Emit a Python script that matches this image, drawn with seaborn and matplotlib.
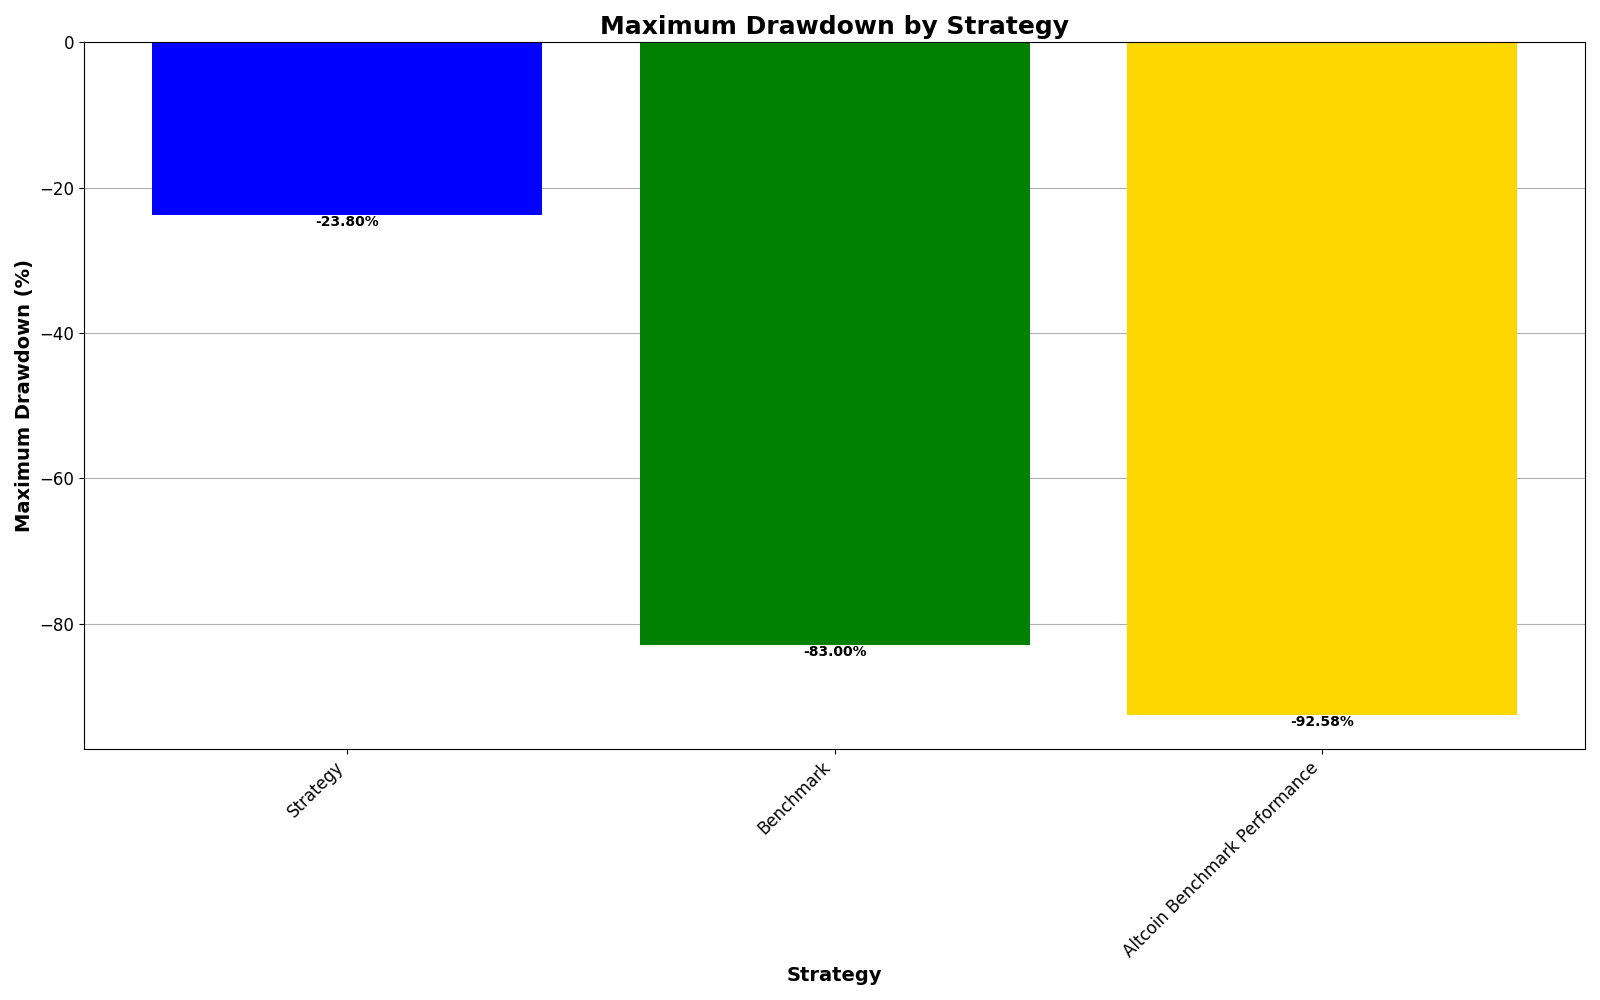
import matplotlib
matplotlib.use('Agg')
import matplotlib.pyplot as plt
import seaborn as sns
import pandas as pd

# Data
strategies = ['Strategy', 'Benchmark', 'Altcoin Benchmark Performance']
drawdowns = [-23.80, -83.00, -92.58]
colors = ['blue', 'green', 'gold']

df = pd.DataFrame({'Strategy': strategies, 'Drawdown': drawdowns})

fig, ax = plt.subplots(figsize=(16, 10), dpi=100)
sns.barplot(data=df, x='Strategy', y='Drawdown', hue='Strategy',
            palette=colors, saturation=1, legend=False, width=0.8, ax=ax)

# back to matplotlib's default x margins
ax.autoscale(enable=True, axis='x')
ax.margins(x=0.05)

# value labels just under each bar
for i, v in enumerate(drawdowns):
    ax.text(i, v, f'{v:.2f}%', ha='center', va='top',
            fontsize=10, fontweight='bold')

ax.set_title('Maximum Drawdown by Strategy', fontsize=18, fontweight='bold')
ax.set_xlabel('Strategy', fontsize=14, fontweight='bold')
ax.set_ylabel('Maximum Drawdown (%)', fontsize=14, fontweight='bold')
ax.tick_params(axis='both', labelsize=12)
plt.setp(ax.get_xticklabels(), rotation=45, ha='right')
ax.grid(axis='y')
ax.set_axisbelow(True)

plt.tight_layout()
plt.savefig('out.png')
